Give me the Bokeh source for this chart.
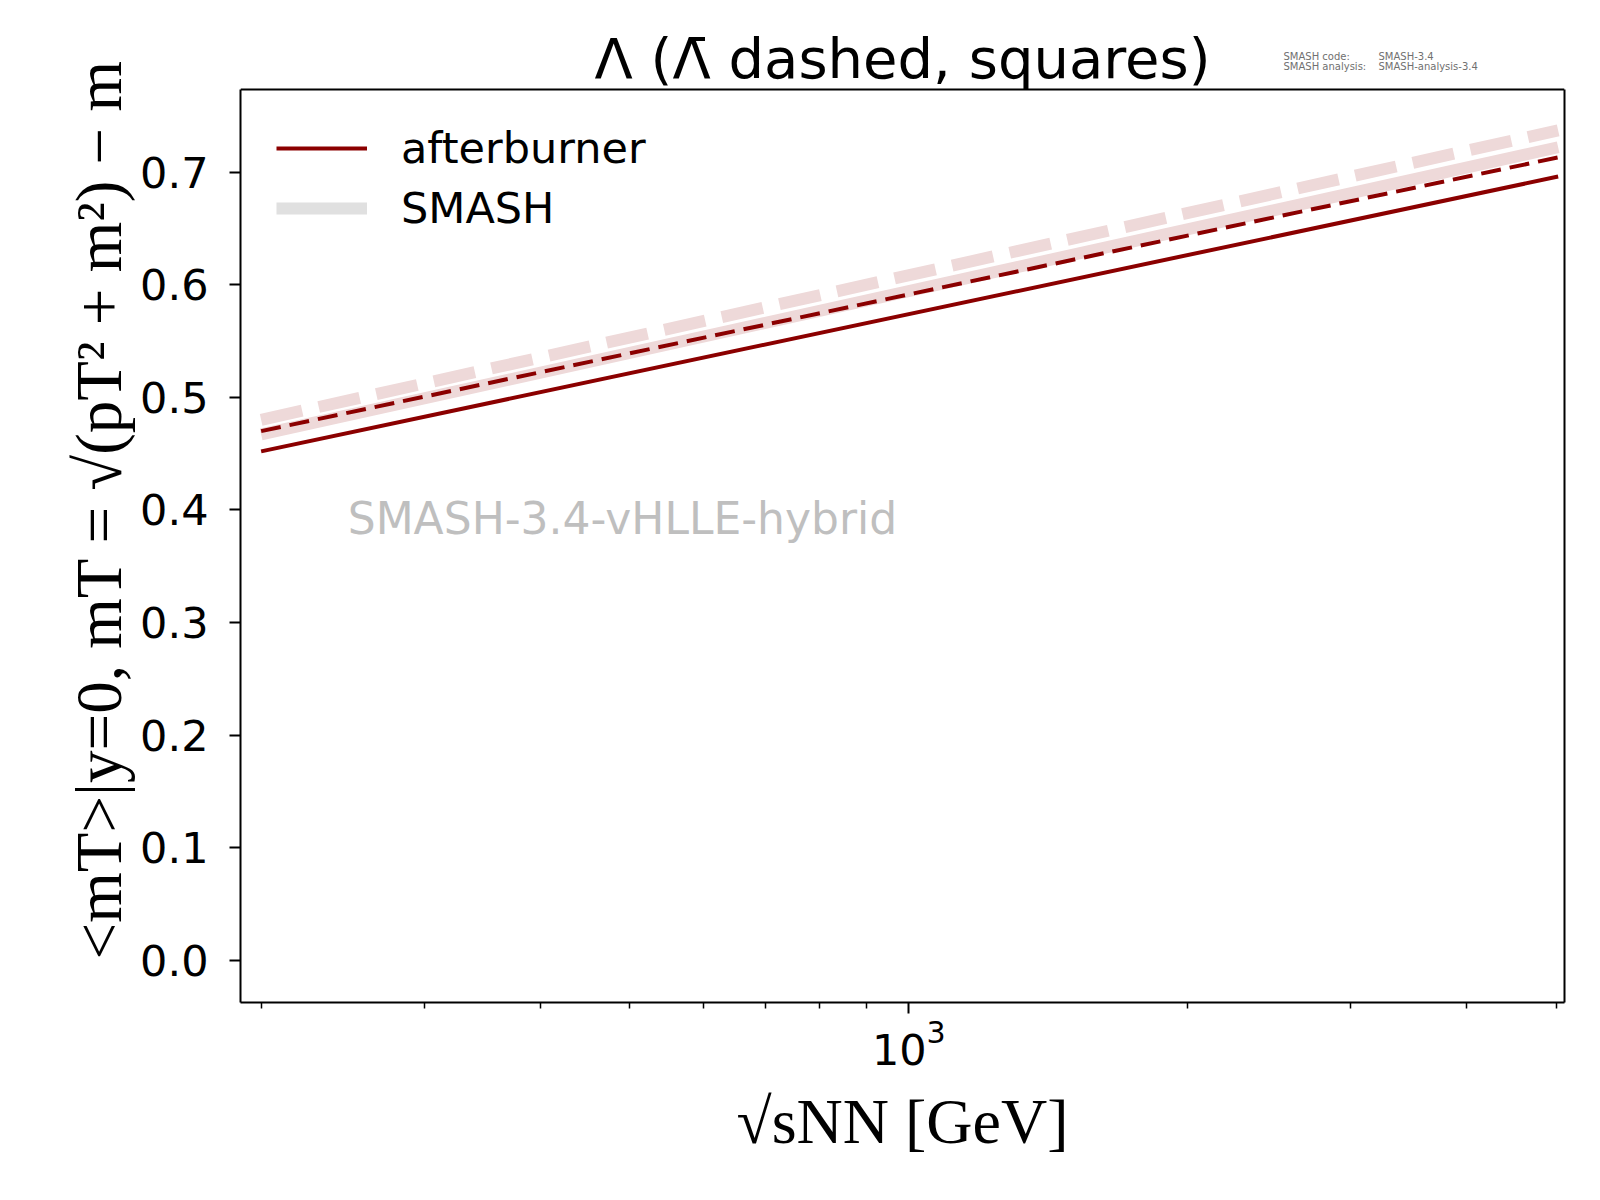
from bokeh.embed import file_html
from bokeh.models import (FixedTicker, Label, Legend, LegendItem, LinearAxis, LogTickFormatter,
                          PrintfTickFormatter, Span)
from bokeh.plotting import figure
from bokeh.resources import INLINE

# mean transverse mass at midrapidity, Lambda and anti-Lambda
energies = [200, 5020]
afterburner_lambda = [0.452, 0.696]
afterburner_antilambda = [0.470, 0.713]
smash_lambda = [0.467, 0.722]
smash_antilambda = [0.480, 0.737]

y_ticks = [0.0, 0.1, 0.2, 0.3, 0.4, 0.5, 0.6, 0.7]
x_major_ticks = [1000]
x_minor_ticks = [200, 300, 400, 500, 600, 700, 800, 900, 2000, 3000, 4000, 5000]

Y_LO, Y_HI = -0.0373, 0.7733   # axes box
Y_TOP = 0.8523                 # frame is stretched up to the canvas top (room for title/stamp)

DARKRED = "#8b0000"
PINK = "#eed9d9"
GREY = "#e0e0e0"
SANS = "DejaVu Sans"
SERIF = "Liberation Serif"
FRAME_W, FRAME_H = 1324, 1002

p = figure(
    x_axis_type="log",
    x_range=(190, 5100),
    y_range=(Y_LO, Y_TOP),
    frame_width=FRAME_W, frame_height=FRAME_H,
    min_border_left=240, min_border_right=28,
    min_border_top=0, min_border_bottom=190,
    output_backend="svg", toolbar_location=None, tools="",
)
p.grid.visible = False
p.outline_line_color = None
p.background_fill_color = "white"
p.border_fill_color = "white"

# x axis
p.xaxis.ticker = FixedTicker(ticks=x_major_ticks, minor_ticks=x_minor_ticks)
p.xaxis.formatter = LogTickFormatter()
p.xaxis.axis_label = "√sNN [GeV]"
p.xaxis.axis_label_text_font = SERIF
p.xaxis.axis_label_text_font_style = "normal"
p.xaxis.axis_label_text_font_size = "64px"
p.xaxis.axis_label_standoff = 18

# y axis
p.yaxis.ticker = FixedTicker(ticks=y_ticks)
p.yaxis.formatter = PrintfTickFormatter(format="%.1f")
p.yaxis.bounds = (Y_LO, Y_HI)
p.yaxis.axis_label = "<mT>|y=0,  mT = √(pT² + m²) − m"
p.yaxis.axis_label_text_font = SERIF
p.yaxis.axis_label_text_font_style = "normal"
p.yaxis.axis_label_text_font_size = "65px"
p.yaxis.axis_label_standoff = 2

for ax in (p.xaxis, p.yaxis):
    ax.axis_line_width = 2
    ax.axis_line_color = "black"
    ax.major_tick_line_width = 2
    ax.minor_tick_line_width = 1.5
    ax.major_tick_out = 11
    ax.major_tick_in = 0
    ax.minor_tick_out = 6
    ax.minor_tick_in = 0
    ax.major_label_text_font = SANS
    ax.major_label_text_font_size = "43px"
    ax.major_label_text_color = "black"
    ax.axis_label_text_color = "black"
p.yaxis.major_label_standoff = 21
p.xaxis.major_label_standoff = 6

# right and top spines of the axes box
right_spine = LinearAxis(bounds=(Y_LO, Y_HI), ticker=FixedTicker(ticks=[]),
                         axis_line_width=2, axis_line_color="black",
                         major_tick_out=0, minor_tick_out=0, major_label_standoff=0,
                         major_label_text_font_size="0px")
p.add_layout(right_spine, "right")
p.add_layout(Span(location=Y_HI, dimension="width", line_color="black", line_width=2))

# SMASH (light, thick) underneath
p.line(energies, smash_lambda, line_color=PINK, line_width=12)
p.line(energies, smash_antilambda, line_color=PINK, line_width=12, line_dash="42 17")

# afterburner
ab = p.line(energies, afterburner_lambda, line_color=DARKRED, line_width=4)
p.line(energies, afterburner_antilambda, line_color=DARKRED, line_width=4, line_dash="20 9")

# legend handle for SMASH drawn in grey (no visible data)
smash_handle = p.line([float("nan")], [float("nan")], line_color=GREY, line_width=12)

legend = Legend(
    items=[LegendItem(label="afterburner", renderers=[ab]),
           LegendItem(label="SMASH", renderers=[smash_handle])],
    location=(36, FRAME_H - 233),
    border_line_alpha=0, background_fill_alpha=0,
    glyph_width=91, glyph_height=44, label_height=44,
    label_standoff=34, spacing=10, padding=0, margin=0,
    label_text_font=SANS, label_text_font_size="43px", label_text_color="black",
)
p.add_layout(legend)

p.add_layout(Label(x=248, y=0.392, text="SMASH-3.4-vHLLE-hybrid",
                   text_font=SANS, text_font_size="44px",
                   text_color="#bfbfbf", text_baseline="middle"))

# title
p.add_layout(Label(x=FRAME_W / 2, y=FRAME_H - 58, x_units="screen", y_units="screen",
                   text="Λ (Λ̄ dashed, squares)", text_align="center",
                   text_baseline="alphabetic", text_font=SANS, text_font_size="56px",
                   text_color="black"))

# version stamp, top right
for yb, left, right in ((FRAME_H - 56, "SMASH code:", "SMASH-3.4"),
                        (FRAME_H - 66, "SMASH analysis:", "SMASH-analysis-3.4")):
    p.add_layout(Label(x=1043, y=yb, x_units="screen", y_units="screen", text=left,
                       text_font=SANS, text_font_size="10px", text_color="#707070",
                       text_baseline="alphabetic"))
    p.add_layout(Label(x=1138, y=yb, x_units="screen", y_units="screen", text=right,
                       text_font=SANS, text_font_size="10px", text_color="#707070",
                       text_baseline="alphabetic"))

open("out.html", "w").write(file_html(p, INLINE))
